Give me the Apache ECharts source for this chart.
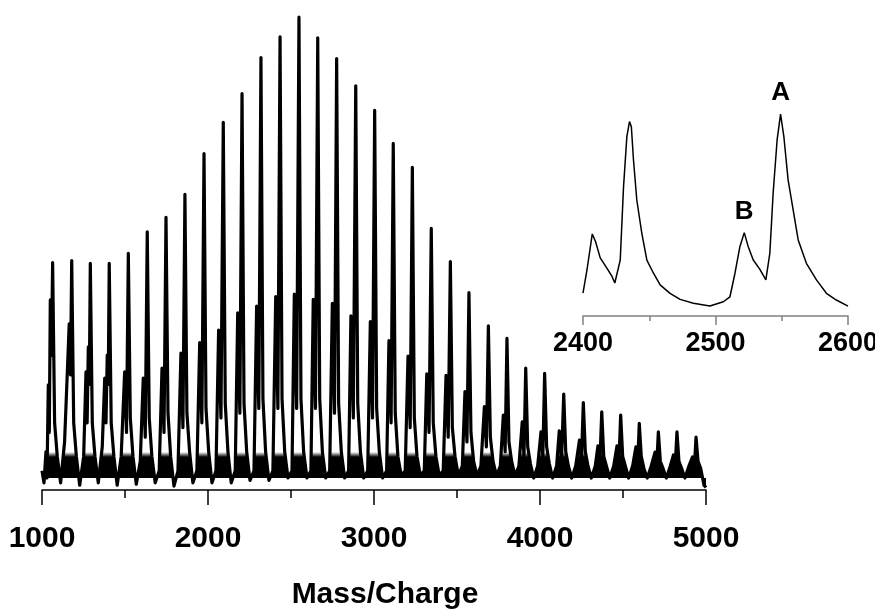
<!DOCTYPE html>
<html>
<head>
<meta charset="utf-8">
<script src="https://cdn.jsdelivr.net/npm/echarts@6/dist/echarts.min.js"></script>
<style>
  html, body { margin: 0; padding: 0; background: #fff; }
  #chart { width: 875px; height: 612px; }
</style>
</head>
<body>
<div id="chart"></div>
<script>
// Main spectrum: cluster series, major ("A") and minor ("B") peaks
const aMz  = [1064, 1179, 1291, 1405, 1520, 1634, 1747, 1861, 1976, 2092, 2205, 2319, 2434, 2548, 2661, 2775, 2890, 3004, 3116, 3231, 3345, 3460, 3572, 3689, 3801, 3914, 4028, 4143, 4261, 4372, 4486, 4598, 4713, 4825, 4940];
const aInt = [47.4, 47.8, 47.2, 47.2, 49.3, 53.8, 56.8, 61.6, 70.1, 76.6, 82.6, 90.1, 94.4, 98.5, 94.2, 89.9, 84.2, 79.1, 72.2, 67.2, 54.5, 47.6, 41.1, 34.2, 31.6, 25.4, 24.3, 20.0, 18.2, 16.3, 15.6, 13.9, 12.1, 12.1, 11.0];
const bMz  = [1050, 1164, 1279, 1393, 1498, 1610, 1723, 1837, 1950, 2064, 2179, 2293, 2408, 2520, 2634, 2749, 2861, 2978, 3090, 3205, 3318, 3434, 3548, 3665, 3779, 3893, 4006, 4116, 4238, 4349, 4464, 4578, 4693, 4804, 4919];
const bInt = [39.6, 34.6, 29.8, 28.1, 24.6, 23.3, 25.4, 28.5, 30.7, 33.3, 36.9, 38.3, 40.3, 40.8, 39.7, 38.9, 36.3, 35.1, 31.1, 27.9, 24.2, 23.9, 20.5, 17.4, 15.6, 14.2, 12.1, 12.3, 10.4, 9.2, 9.2, 9.0, 7.9, 7.3, 6.9];
// level between the B and A peaks of each cluster
const dipInt = [28, 24, 22, 22, 12, 11, 12, 13, 14, 15, 16, 17, 17, 17, 17, 16, 15, 15, 14, 13, 12, 11, 10, 9, 8, 7, 7, 6, 6, 5.5, 5.5, 5, 5, 5, 4.5];
// falling edge after each A peak, then the valley floor and the noise bump before the next cluster
const edgeInt   = [14, 14, 14, 14, 15, 15, 16, 16, 17, 18, 18, 19, 19, 19, 19, 18, 18, 17, 16, 15, 14, 13, 12, 11, 10, 9, 9, 8, 8, 7, 7, 7, 6, 6, 6];
const shoulderInt = [7, 7, 7, 7, 7, 7, 7, 8, 8, 8, 8, 8, 8, 8, 8, 8, 8, 8, 7, 7, 7, 7, 6, 6, 6, 5.5, 5.5, 5, 5, 5, 5, 4.5, 4.5, 4.5, 4.5];
const valleyInt = [1.5, 1, 1.5, 1, 1.2, 1.5, 0.8, 1.5, 1.5, 1.5, 2, 2, 2.5, 2.5, 2.5, 2.5, 2.5, 2.5, 3, 3, 3, 3, 3, 3, 3, 2.5, 2.5, 2.5, 2.5, 2.5, 2.5, 2.5, 2.5, 2.5, 1];
const bumpInt   = [10, 7, 9, 7, 6, 4, 4, 4, 4, 4, 4, 4, 4, 4, 4, 4, 4, 4, 4, 4, 4, 5, 5, 5, 5, 5, 5, 5, 5, 5, 5, 5, 5, 5];
// extra small peak ahead of the first clusters (clusters 0, 2 and 3)
const cGroup = [0, 2, 3];
const cMz  = [1038, 1265, 1378];
const cInt = [21.9, 24.6, 23.3];
const cDipInt = [12, 14, 14];
// start and end of the trace
const leadMz  = [1000, 1012, 1024, 1030];
const leadInt = [4, 1.5, 8, 2.5];
const endMz = 5000, endInt = 0.5;
// profile offsets (m/z) of the edge, shoulder, valley and bump after each A peak
const edgeOff = 12, shoulderOff = 28, valleyOff = 48, bumpOff = 72;
// noise floor of the baseline band
const noiseFloor = 2.5;

// Inset: 2400-2600 expansion
const insetMz  = [2400, 2403, 2407, 2409.5, 2413, 2418, 2422, 2424, 2428.1, 2430.6, 2433.1, 2435.1, 2436.5, 2438.1, 2440.6, 2444.4, 2448.2, 2453.2, 2458.2, 2465.7, 2473.3, 2483.3, 2495.8, 2505.9, 2510.9, 2514.7, 2518.4, 2521.7, 2524.7, 2528.5, 2533.5, 2538, 2541, 2543.5, 2546.5, 2549.1, 2551.6, 2554.8, 2558.6, 2562.4, 2568.6, 2576.2, 2583.7, 2591.2, 2600];
const insetInt = [10.6, 21.3, 38.0, 34.4, 26.9, 22.2, 18.2, 15.3, 25.9, 59.9, 83.0, 90.0, 87.6, 72.2, 53.7, 38.3, 25.9, 19.8, 14.4, 10.5, 7.7, 5.9, 4.6, 6.6, 8.9, 19.8, 32.1, 38.6, 32.1, 25.9, 21.6, 16.7, 29.0, 56.8, 81.5, 93.5, 83.0, 63.0, 49.1, 35.2, 24.4, 16.7, 10.5, 7.4, 4.6];
const peakLabels = [{ name: 'A', mz: 2549.1, value: 93.5 }, { name: 'B', mz: 2521.7, value: 38.6 }];

const mainTicks = [1000, 2000, 3000, 4000, 5000];
const insetTicks = [2400, 2500, 2600];

// assemble the main trace
const pts = [];
leadMz.forEach((m, i) => pts.push([m, leadInt[i]]));
cMz.forEach((m, i) => {
  pts.push([m, cInt[i]]);
  pts.push([(m + bMz[cGroup[i]]) / 2, cDipInt[i]]);
});
aMz.forEach((m, i) => {
  pts.push([bMz[i], bInt[i]]);
  pts.push([(bMz[i] + m) / 2, dipInt[i]]);
  pts.push([m, aInt[i]]);
  pts.push([m + edgeOff, edgeInt[i]]);
  pts.push([m + shoulderOff, shoulderInt[i]]);
  pts.push([m + valleyOff, valleyInt[i]]);
  if (i < bumpInt.length) pts.push([m + bumpOff, bumpInt[i]]);
});
pts.push([endMz, endInt]);
pts.sort((p, q) => p[0] - q[0]);

const insetData = insetMz.map((m, i) => [m, insetInt[i]]);

// dense noise near the baseline: solid black band under the trace
const baselineShade = new echarts.graphic.LinearGradient(0, 452, 0, 457, [
  { offset: 0, color: 'rgba(0,0,0,0)' },
  { offset: 1, color: 'rgba(0,0,0,1)' }
], true);

const FONT = '"Liberation Sans", Arial, sans-serif';
const plain = v => String(v);
const chart = echarts.init(document.getElementById('chart'), null, { renderer: 'canvas' });
chart.setOption({
  animation: false,
  backgroundColor: '#fff',
  grid: [
    { left: 42, right: 169, top: 10, bottom: 122, outerBoundsMode: 'none', containLabel: false },
    { left: 583, right: 27, top: 100, bottom: 296, outerBoundsMode: 'none', containLabel: false }
  ],
  xAxis: [{
    gridIndex: 0, type: 'value', min: mainTicks[0], max: mainTicks[mainTicks.length - 1], interval: 1000,
    axisLine: { lineStyle: { color: '#000', width: 1.5 } },
    axisTick: { length: 15, lineStyle: { color: '#000', width: 1.5 } },
    minorTick: { show: true, splitNumber: 2, length: 8, lineStyle: { color: '#000', width: 1.5 } },
    splitLine: { show: false },
    axisLabel: { margin: 34, formatter: plain, color: '#000', fontSize: 30, fontWeight: 'bold', fontFamily: FONT },
    name: 'Mass/Charge', nameLocation: 'middle', nameGap: 90,
    nameTextStyle: { color: '#000', fontSize: 30, fontWeight: 'bold', fontFamily: FONT, padding: [0, 0, 0, 22] }
  }, {
    gridIndex: 1, type: 'value', min: insetTicks[0], max: insetTicks[insetTicks.length - 1], interval: 100,
    axisLine: { lineStyle: { color: '#808080', width: 1.5 } },
    axisTick: { length: 9, lineStyle: { color: '#808080', width: 1.5 } },
    minorTick: { show: true, splitNumber: 2, length: 5, lineStyle: { color: '#808080', width: 1.5 } },
    splitLine: { show: false },
    axisLabel: { margin: 14, formatter: plain, color: '#000', fontSize: 27, fontWeight: 'bold', fontFamily: FONT }
  }],
  yAxis: [
    { gridIndex: 0, type: 'value', min: 0, max: 100, show: false },
    { gridIndex: 1, type: 'value', min: 0, max: 100, show: false }
  ],
  series: [{
    type: 'line', xAxisIndex: 0, yAxisIndex: 0, data: pts,
    showSymbol: false, symbol: 'none', sampling: null,
    lineStyle: { color: '#000', width: 3.2, join: 'round' },
    areaStyle: { color: baselineShade, opacity: 1, origin: noiseFloor }
  }, {
    type: 'line', xAxisIndex: 1, yAxisIndex: 1, data: insetData,
    showSymbol: false, symbol: 'none',
    lineStyle: { color: '#000', width: 1.5 },
    markPoint: {
      symbol: 'circle', symbolSize: 0,
      data: peakLabels.map(p => ({ name: p.name, coord: [p.mz, p.value] })),
      label: {
        show: true, position: 'top', distance: 8, formatter: '{b}',
        color: '#000', fontSize: 26, fontWeight: 'bold', fontFamily: FONT
      }
    }
  }]
});
</script>
</body>
</html>
